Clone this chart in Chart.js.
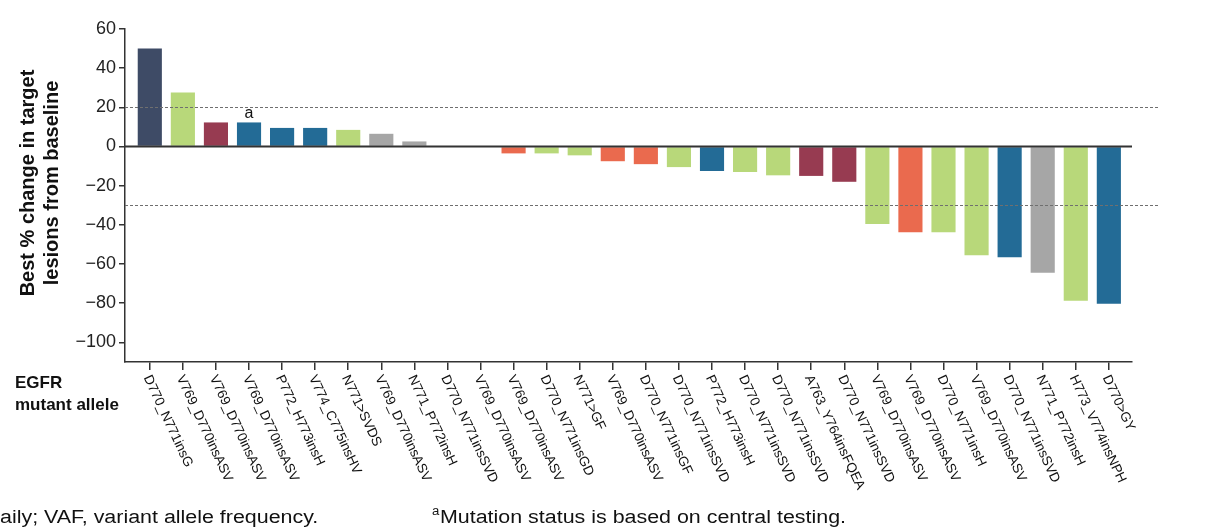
<!DOCTYPE html>
<html>
<head>
<meta charset="utf-8">
<script src="https://cdn.jsdelivr.net/npm/chart.js@4/dist/chart.umd.min.js"></script>
<style>
  body { margin: 0; background: #fff; }
  canvas { display: block; }
</style>
</head>
<body>
<canvas id="waterfall" width="1220" height="532"></canvas>
<script>
// mutant allele per patient (x axis)
const alleles = [
  "D770_N771insG", "V769_D770insASV", "V769_D770insASV", "V769_D770insASV",
  "P772_H773insH", "V774_C775insHV", "N771>SVDS", "V769_D770insASV",
  "N771_P772insH", "D770_N771insSVD", "V769_D770insASV", "V769_D770insASV",
  "D770_N771insGD", "N771>GF", "V769_D770insASV", "D770_N771insGF",
  "D770_N771insSVD", "P772_H773insH", "D770_N771insSVD", "D770_N771insSVD",
  "A763_Y764insFQEA", "D770_N771insSVD", "V769_D770insASV", "V769_D770insASV",
  "D770_N771insH", "V769_D770insASV", "D770_N771insSVD", "N771_P772insH",
  "H773_V774insNPH", "D770>GY"
];
// best % change, null = no bar
const bestChange = [
  50, 27.6, 12.3, 12.3, 9.5, 9.5, 8.5, 6.5, 2.6, null, null,
  -3.5, -3.5, -4.5, -7.5, -9, -10.5, -12.5, -13, -14.7, -15, -18,
  -39.5, -43.8, -43.8, -55.5, -56.5, -64.5, -78.7, -80.2
];
// colour group per bar
const groups = [
  "g1", "g2", "g3", "g4", "g4", "g4", "g2", "g5", "g5", null, null,
  "g6", "g2", "g2", "g6", "g6", "g2", "g4", "g2", "g2", "g3", "g3",
  "g2", "g6", "g2", "g2", "g4", "g5", "g2", "g4"
];
const yTicks = [60, 40, 20, 0, -20, -40, -60, -80, -100];
const refLines = [20, -30];
const noted = [3]; // bars marked with "a"

const groupColors = {
  g1: "#3e4b66", g2: "#b8d87a", g3: "#973b51",
  g4: "#236b96", g5: "#a6a6a6", g6: "#ea6a4e"
};

const fontFam = "'Liberation Sans', Arial, sans-serif";

// stretched text, the footnotes are set wider than plain Arial
function wideText(ctx, txt, x, y, sx) {
  ctx.save();
  ctx.translate(x, y);
  ctx.scale(sx, 1);
  ctx.fillText(txt, 0, 0);
  ctx.restore();
}

const extras = {
  id: "extras",
  afterDatasetsDraw(chart) {
    const ctx = chart.ctx;
    const x = chart.scales.x, y = chart.scales.y;
    const a = chart.chartArea;
    ctx.save();
    // dashed reference lines
    ctx.strokeStyle = "#6f6f6f";
    ctx.lineWidth = 1;
    ctx.setLineDash([3, 2]);
    refLines.forEach(v => {
      const py = Math.round(y.getPixelForValue(v)) + 0.5;
      ctx.beginPath();
      ctx.moveTo(a.left, py);
      ctx.lineTo(a.right + 28, py);
      ctx.stroke();
    });
    ctx.setLineDash([]);
    // zero line
    ctx.strokeStyle = "#333";
    ctx.lineWidth = 2;
    const zy = y.getPixelForValue(0);
    ctx.beginPath();
    ctx.moveTo(a.left, zy);
    ctx.lineTo(a.right, zy);
    ctx.stroke();

    // "a" note
    ctx.fillStyle = "#111";
    ctx.font = "16px " + fontFam;
    ctx.textAlign = "center";
    ctx.textBaseline = "bottom";
    noted.forEach(i => {
      ctx.fillText("a", x.getPixelForValue(i), y.getPixelForValue(bestChange[i]) - 1);
    });

    // rotated allele labels
    ctx.font = "13.5px " + fontFam;
    ctx.textAlign = "left";
    ctx.textBaseline = "middle";
    alleles.forEach((lab, i) => {
      ctx.save();
      ctx.translate(x.getPixelForValue(i) - 3, a.bottom + 14);
      ctx.rotate(65 * Math.PI / 180);
      ctx.fillText(lab, 0, 0);
      ctx.restore();
    });

    // y title
    ctx.font = "bold 20px " + fontFam;
    ctx.textAlign = "center";
    ctx.textBaseline = "middle";
    ctx.save();
    ctx.translate(28, 183);
    ctx.rotate(-Math.PI / 2);
    ctx.fillText("Best % change in target", 0, 0);
    ctx.fillText("lesions from baseline", 0, 24);
    ctx.restore();

    // x title
    ctx.font = "bold 17px " + fontFam;
    ctx.textAlign = "left";
    ctx.fillText("EGFR", 15, 383);
    ctx.fillText("mutant allele", 15, 405);

    // footnotes
    ctx.textBaseline = "alphabetic";
    ctx.font = "18px " + fontFam;
    wideText(ctx, "aily; VAF, variant allele frequency.", 0, 523, 1.19);
    ctx.font = "12px " + fontFam;
    wideText(ctx, "a", 432, 515, 1.1);
    ctx.font = "18px " + fontFam;
    wideText(ctx, "Mutation status is based on central testing.", 440, 523, 1.19);
    ctx.restore();
  }
};

new Chart(document.getElementById("waterfall"), {
  type: "bar",
  data: {
    datasets: [{
      data: bestChange.map((v, i) => ({ x: i, y: v })),
      backgroundColor: groups.map(g => g ? groupColors[g] : "rgba(0,0,0,0)"),
      borderWidth: 0,
      barPercentage: 0.73,
      categoryPercentage: 1
    }]
  },
  options: {
    responsive: false,
    animation: false,
    layout: { padding: { left: 0, top: 29, right: 88, bottom: 0 } },
    plugins: { legend: { display: false }, tooltip: { enabled: false } },
    scales: {
      x: {
        type: "linear",
        offset: false,
        min: -0.75,
        max: 29.7,
        afterBuildTicks: s => { s.ticks = alleles.map((_, i) => ({ value: i })); },
        afterFit: s => { s.height = 170; },
        ticks: { display: false },
        grid: { offset: false, drawOnChartArea: false, tickLength: 8, color: "#333", lineWidth: 1.5 },
        border: { color: "#333", width: 1.5 }
      },
      y: {
        min: -110,
        max: 60,
        afterBuildTicks: s => { s.ticks = yTicks.map(v => ({ value: v })); },
        afterFit: s => { s.width = 125; },
        ticks: {
          color: "#222",
          padding: 3,
          font: { family: fontFam, size: 18 },
          callback: v => v < 0 ? "\u2212" + Math.abs(v) : String(v)
        },
        grid: { drawOnChartArea: false, tickLength: 6, color: "#333", lineWidth: 1.5 },
        border: { color: "#333", width: 1.5 }
      }
    }
  },
  plugins: [extras]
});
</script>
</body>
</html>
